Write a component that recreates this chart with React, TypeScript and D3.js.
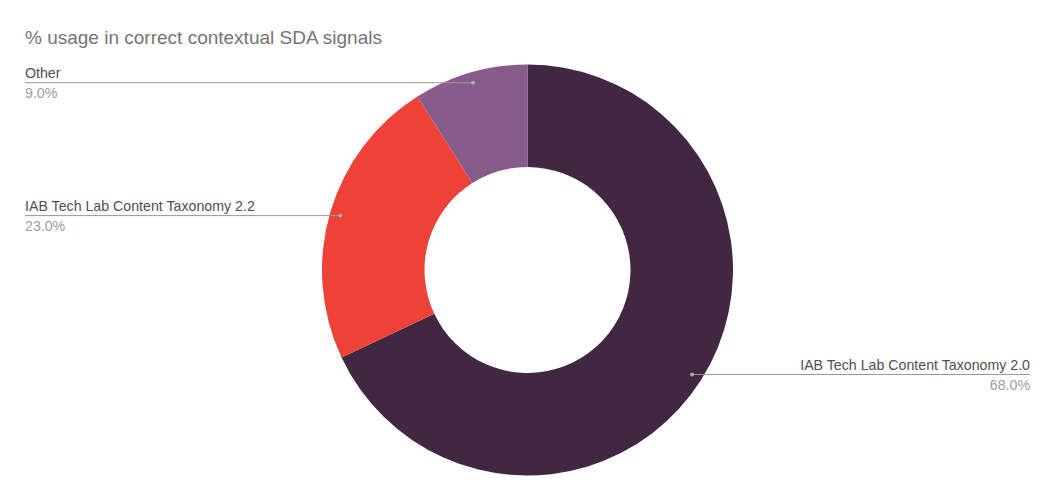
import React, { useMemo } from 'react';
import * as d3 from 'd3';

const categories = ['IAB Tech Lab Content Taxonomy 2.0', 'IAB Tech Lab Content Taxonomy 2.2', 'Other'];
const values = [68, 23, 9];
const colors = ['#412742', '#ee4137', '#875c8a'];
const title = '% usage in correct contextual SDA signals';

const W = 1055;
const H = 500;
const cx = 527.5;
const cy = 270;
const outerR = 205.5;
const innerR = 103;
const dotR = 195;

interface Slice {
  name: string;
  value: number;
  color: string;
}

const data: Slice[] = categories.map((c, i) => ({ name: c, value: values[i], color: colors[i] }));

const App: React.FC = () => {
  const pie = useMemo(() => d3.pie<Slice>().sort(null).value((d) => d.value)(data), []);
  const arc = useMemo(() => d3.arc<d3.PieArcDatum<Slice>>().innerRadius(innerR).outerRadius(outerR), []);
  const total = d3.sum(values);
  const fmt = d3.format('.1f');

  return (
    <svg width={W} height={H} style={{ position: 'absolute', left: 0, top: 0, fontFamily: 'Arial, "Liberation Sans", sans-serif' }}>
      <rect width={W} height={H} fill="#fff" />
      <text x={25} y={44} fontSize={19} fill="#757575">{title}</text>
      <g transform={`translate(${cx},${cy})`}>
        {pie.map((s) => (
          <path key={s.data.name} d={arc(s) || undefined} fill={s.data.color} />
        ))}
      </g>
      {pie.map((s) => {
        const mid = (s.startAngle + s.endAngle) / 2;
        const dx = cx + dotR * Math.sin(mid);
        const dy = cy - dotR * Math.cos(mid);
        const right = dx > cx;
        const lx = right ? 1030 : 25;
        const pct = fmt((s.data.value / total) * 100) + '%';
        return (
          <g key={s.data.name}>
            <line x1={lx} x2={dx} y1={dy} y2={dy} stroke="#999" strokeWidth={1} />
            <circle cx={dx} cy={dy} r={2} fill="#aaa" />
            <text x={lx} y={dy - 4.5} fontSize={14.2} fill="#505050" textAnchor={right ? 'end' : 'start'}>{s.data.name}</text>
            <text x={lx} y={dy + 15.5} fontSize={14.2} fill="#9e9e9e" textAnchor={right ? 'end' : 'start'}>{pct}</text>
          </g>
        );
      })}
    </svg>
  );
};

export default App;
